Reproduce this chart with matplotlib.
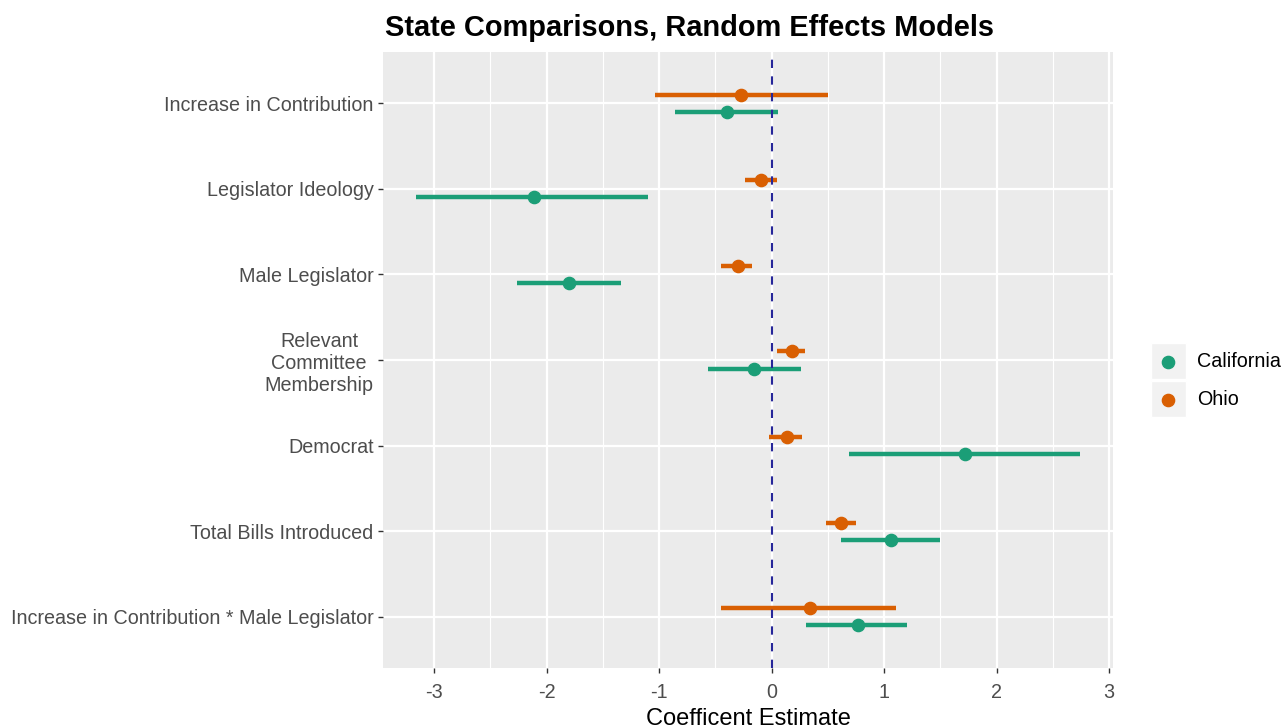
import matplotlib
matplotlib.use("Agg")
import matplotlib.pyplot as plt
from matplotlib.lines import Line2D
from matplotlib.patches import Rectangle
import numpy as np

plt.rcParams['font.family'] = ['Liberation Sans', 'DejaVu Sans']

categories = ["Increase in Contribution", "Legislator Ideology", "Male Legislator",
              "Relevant\nCommittee\nMembership", "Democrat", "Total Bills Introduced",
              "Increase in Contribution * Male Legislator"]

ca_est = [-0.40, -2.11, -1.80, -0.16, 1.72, 1.06, 0.77]
ca_lo = [-0.86, -3.16, -2.26, -0.57, 0.69, 0.62, 0.31]
ca_hi = [0.06, -1.10, -1.34, 0.26, 2.74, 1.50, 1.20]
oh_est = [-0.27, -0.09, -0.30, 0.18, 0.14, 0.62, 0.34]
oh_lo = [-1.04, -0.24, -0.45, 0.05, -0.02, 0.48, -0.45]
oh_hi = [0.50, 0.05, -0.17, 0.30, 0.27, 0.75, 1.11]

states = ["California", "Ohio"]
colors = {"California": "#1B9E77", "Ohio": "#D95F02"}
x_ticks = [-3, -2, -1, 0, 1, 2, 3]
x_minor = [-2.5, -1.5, -0.5, 0.5, 1.5, 2.5]

fig = plt.figure(figsize=(12.85, 7.28), dpi=100)
ax = fig.add_axes([383/1285, 60/728, (1113-383)/1285, (668-52)/728])
ax.set_facecolor("#EBEBEB")

n = len(categories)
ypos = np.arange(n, 0, -1).astype(float)
dodge = {"California": -0.1, "Ohio": 0.1}
data = {"California": (ca_est, ca_lo, ca_hi), "Ohio": (oh_est, oh_lo, oh_hi)}

for s in states:
    est, lo, hi = data[s]
    y = ypos + dodge[s]
    ax.hlines(y, lo, hi, color=colors[s], lw=3.2, zorder=3, capstyle='butt')
    ax.plot(est, y, 'o', color=colors[s], ms=8.8, zorder=4, mec=colors[s])

ax.axvline(0, color="#27279A", lw=1.5, ls=(0, (4, 4)), zorder=5)

ax.set_xticks(x_ticks)
ax.set_xticklabels([str(t) for t in x_ticks])
ax.set_xticks(x_minor, minor=True)
ax.set_yticks(ypos)
ax.set_yticklabels(categories, multialignment='center')

allx = ca_lo + ca_hi + oh_lo + oh_hi
xmin, xmax = min(allx), max(allx)
pad = 0.05 * (xmax - xmin)
ax.set_xlim(xmin - pad, xmax + pad)
ax.set_ylim(0.4, n + 0.6)

ax.grid(which='major', color='white', lw=1.6, zorder=1)
ax.grid(which='minor', axis='x', color='white', lw=0.8, zorder=1)
ax.set_axisbelow(True)
for sp in ax.spines.values():
    sp.set_visible(False)

ax.tick_params(axis='both', which='major', length=3.8, width=1.0, color='#333333',
               labelsize=14.2, labelcolor='#4D4D4D')
ax.tick_params(axis='x', which='major', pad=7)
ax.tick_params(axis='y', which='major', pad=3)
ax.tick_params(axis='both', which='minor', length=0)

ax.set_xlabel("Coefficent Estimate", fontsize=17, color='black', labelpad=4)
fig.text(385/1285, 1 - 28/728, "State Comparisons, Random Effects Models",
         fontsize=20.9, fontweight='bold', ha='left', va='center')

for i, s in enumerate(states):
    top = 343 + i * 38
    fig.add_artist(Rectangle((1151/1285, 1 - (top + 36)/728), 35/1285, 36/728,
                             transform=fig.transFigure, facecolor='#F2F2F2',
                             edgecolor='white', lw=1))
    yc = 1 - (top + 18.5)/728
    fig.add_artist(Line2D([1168/1285], [yc], marker='o', color=colors[s], ms=8.8,
                          transform=fig.transFigure))
    fig.text(1197/1285, yc, s, fontsize=14.2, ha='left', va='center', color='black')

fig.savefig("out.png", dpi=100, facecolor='white')
